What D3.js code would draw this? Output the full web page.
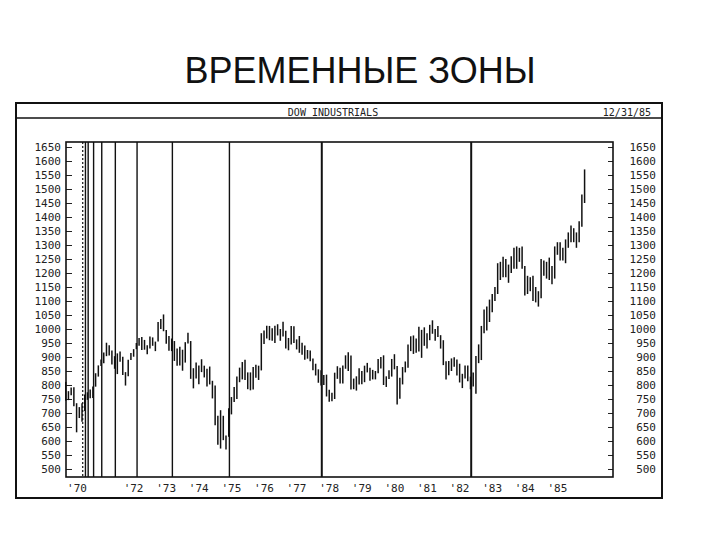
<!DOCTYPE html>
<html>
<head>
<meta charset="utf-8">
<script src="https://cdn.jsdelivr.net/npm/d3@7"></script>
<style>
  html, body { margin: 0; padding: 0; background: #fff; }
  svg { display: block; }
</style>
</head>
<body>
<svg id="chart" width="720" height="540"></svg>
<script>
// ---- data ----
const pageTitle = "ВРЕМЕННЫЕ ЗОНЫ";
const chartTitle = "DOW INDUSTRIALS";
const chartDate = "12/31/85";
const firstYear = 1970;
// monthly highs, Jan 1970 .. Dec 1985
const highs = [
  811, 778, 791, 792, 735, 721, 735, 766, 774, 784, 795, 842,   // 1970
  870, 891, 916, 951, 942, 923, 903, 913, 920, 901, 846, 890,   // 1971
  914, 928, 950, 968, 971, 961, 942, 973, 970, 955, 1025, 1036, // 1972
  1052, 996, 975, 966, 957, 930, 937, 926, 953, 987, 957, 860,  // 1973
  880, 870, 892, 869, 858, 866, 815, 798, 690, 710, 690, 620,   // 1974
  717, 757, 793, 830, 862, 882, 890, 845, 845, 864, 872, 869,   // 1975
  985, 995, 1012, 1011, 1003, 1012, 1017, 1000, 1026, 994, 968, 1011, // 1976
  1010, 963, 975, 951, 941, 925, 923, 895, 876, 856, 853, 836,  // 1977
  837, 783, 772, 844, 867, 862, 870, 906, 917, 905, 823, 831,   // 1978
  860, 850, 869, 879, 862, 854, 850, 893, 900, 906, 831, 853,   // 1979
  893, 910, 868, 826, 864, 884, 945, 974, 977, 966, 1008, 997,  // 1980
  1006, 985, 1015, 1031, 1000, 1011, 978, 960, 885, 886, 895, 899, // 1981
  891, 876, 840, 870, 870, 830, 845, 904, 945, 1011, 1070, 1080, // 1982
  1105, 1125, 1150, 1235, 1240, 1258, 1250, 1230, 1260, 1290, 1295, 1290, // 1983
  1295, 1225, 1190, 1185, 1190, 1150, 1135, 1250, 1245, 1240, 1255, 1225, // 1984
  1295, 1310, 1310, 1290, 1320, 1345, 1370, 1360, 1345, 1385, 1480, 1570  // 1985
];
// monthly lows, Jan 1970 .. Dec 1985
const lows = [
  744, 746, 763, 724, 631, 682, 669, 707, 747, 753, 754, 794,   // 1970
  830, 868, 878, 903, 905, 873, 858, 839, 883, 836, 798, 831,   // 1971
  889, 901, 928, 940, 925, 926, 910, 930, 940, 921, 955, 1000,  // 1972
  992, 947, 922, 921, 886, 869, 870, 851, 880, 948, 822, 788,   // 1973
  823, 803, 846, 827, 795, 802, 752, 656, 587, 573, 603, 570,   // 1974
  615, 695, 739, 750, 810, 820, 818, 785, 781, 784, 826, 818,   // 1975
  852, 946, 966, 960, 958, 950, 977, 958, 973, 930, 924, 945,   // 1976
  950, 927, 915, 908, 890, 894, 885, 853, 834, 808, 798, 800,   // 1977
  759, 740, 742, 750, 822, 805, 805, 858, 850, 784, 785, 780,   // 1978
  802, 803, 810, 845, 815, 820, 820, 842, 859, 800, 793, 821,   // 1979
  830, 856, 730, 751, 802, 845, 862, 921, 911, 915, 920, 897,   // 1980
  940, 930, 960, 983, 958, 971, 930, 871, 820, 835, 850, 865,   // 1981
  834, 809, 789, 823, 813, 785, 795, 769, 878, 889, 985, 995,   // 1982
  1025, 1060, 1100, 1125, 1175, 1185, 1185, 1165, 1200, 1215, 1215, 1240, // 1983
  1215, 1120, 1125, 1135, 1100, 1095, 1080, 1110, 1190, 1180, 1175, 1160, // 1984
  1180, 1265, 1245, 1245, 1235, 1290, 1310, 1310, 1290, 1310, 1365, 1450  // 1985
];
// Fibonacci time zones, counted in months from the 1970 low
const zoneOrigin = 1970.48;
const fibMonths = [1, 2, 3, 5, 8, 13, 21, 34, 55, 89, 144];
const yTicks = d3.range(500, 1651, 50);
const yearLabels = [
  {year: 1970, text: "'70"}, {year: 1972, text: "'72"}, {year: 1973, text: "'73"},
  {year: 1974, text: "'74"}, {year: 1975, text: "'75"}, {year: 1976, text: "'76"},
  {year: 1977, text: "'77"}, {year: 1978, text: "'78"}, {year: 1979, text: "'79"},
  {year: 1980, text: "'80"}, {year: 1981, text: "'81"}, {year: 1982, text: "'82"},
  {year: 1983, text: "'83"}, {year: 1984, text: "'84"}, {year: 1985, text: "'85"}
];

// ---- layout ----
const svg = d3.select("#chart");
const mono = "'DejaVu Sans Mono', 'Liberation Mono', monospace";
const frame = {x0: 16, y0: 103, x1: 662, y1: 498, head: 118};
const plot = {x0: 66, y0: 142, x1: 613, y1: 477};

const x = d3.scaleLinear().domain([1970.05, 1986.83]).range([plot.x0, plot.x1]);
const y = d3.scaleLinear().domain([471.4, 1667.9]).range([plot.y1, plot.y0]);

svg.append("rect").attr("width", 720).attr("height", 540).attr("fill", "#fff");

// page title
svg.append("text")
  .attr("x", 360).attr("y", 83)
  .attr("text-anchor", "middle")
  .attr("font-family", "'Liberation Sans', Arial, sans-serif")
  .attr("font-size", 36)
  .attr("fill", "#111")
  .text(pageTitle);

// outer frame
svg.append("rect")
  .attr("x", frame.x0).attr("y", frame.y0)
  .attr("width", frame.x1 - frame.x0).attr("height", frame.y1 - frame.y0)
  .attr("fill", "none").attr("stroke", "#111").attr("stroke-width", 2);
svg.append("line")
  .attr("x1", frame.x0).attr("x2", frame.x1)
  .attr("y1", frame.head).attr("y2", frame.head)
  .attr("stroke", "#111").attr("stroke-width", 1.5);

svg.append("text")
  .attr("x", 333).attr("y", 116)
  .attr("text-anchor", "middle")
  .attr("font-family", mono).attr("font-size", 10).attr("fill", "#222")
  .text(chartTitle);
svg.append("text")
  .attr("x", 651).attr("y", 116)
  .attr("text-anchor", "end")
  .attr("font-family", mono).attr("font-size", 10).attr("fill", "#222")
  .text(chartDate);

// axes
const leftAxis = d3.axisLeft(y).tickValues(yTicks).tickSize(-6).tickPadding(5).tickFormat(d3.format("d"));
const rightAxis = d3.axisRight(y).tickValues(yTicks).tickSize(-5).tickPadding(5).tickFormat(d3.format("d"));

const gl = svg.append("g").attr("transform", `translate(${plot.x0},0)`).call(leftAxis);
const gr = svg.append("g").attr("transform", `translate(${plot.x1},0)`).call(rightAxis);
[gl, gr].forEach(g => {
  g.select(".domain").remove();
  g.selectAll(".tick line").attr("stroke", "#222").attr("stroke-width", 1);
  g.selectAll(".tick text")
    .attr("font-family", mono).attr("font-size", 11).attr("fill", "#222");
});
gr.selectAll(".tick text").attr("text-anchor", "end").attr("x", 656 - plot.x1);

// plot box
svg.append("rect")
  .attr("x", plot.x0).attr("y", plot.y0)
  .attr("width", plot.x1 - plot.x0).attr("height", plot.y1 - plot.y0)
  .attr("fill", "none").attr("stroke", "#111").attr("stroke-width", 1.6);

// year labels
svg.append("g").selectAll("text").data(yearLabels).join("text")
  .attr("x", d => Math.max(x(d.year) + 4, 77))
  .attr("y", 492)
  .attr("text-anchor", "middle")
  .attr("font-family", mono).attr("font-size", 11).attr("fill", "#222")
  .text(d => d.text);

// price bars (monthly high-low)
const months = highs.map((h, i) => ({t: firstYear + (i + 0.5) / 12, h, l: lows[i]}));
svg.append("g").selectAll("line").data(months).join("line")
  .attr("x1", d => x(d.t)).attr("x2", d => x(d.t))
  .attr("y1", d => y(d.h)).attr("y2", d => y(d.l))
  .attr("stroke", "#111").attr("stroke-width", 1.5);

// Fibonacci time zones
svg.append("g").selectAll("line").data(fibMonths).join("line")
  .attr("x1", d => x(zoneOrigin + d / 12)).attr("x2", d => x(zoneOrigin + d / 12))
  .attr("y1", plot.y0).attr("y2", plot.y1)
  .attr("stroke", "#111")
  .attr("stroke-width", (d, i) => i === 0 ? 1.2 : (d >= 89 ? 2 : 1.4))
  .attr("stroke-dasharray", (d, i) => i === 0 ? "2,2" : null);
</script>
</body>
</html>
